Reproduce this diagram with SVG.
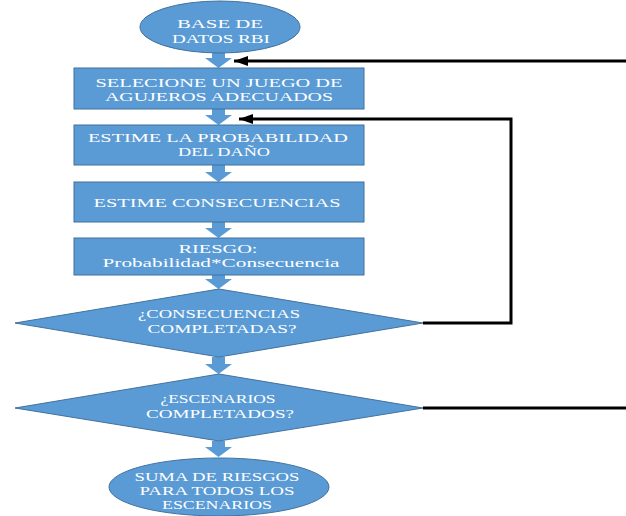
<svg xmlns="http://www.w3.org/2000/svg" width="626" height="516" viewBox="0 0 626 516">
<defs>
<style>
.shape{fill:#5B9BD5;stroke:#41719C;stroke-width:1}
.barrow{fill:#5B9BD5;stroke:none}
.t{font-family:"Liberation Serif","Times New Roman",serif;font-size:12px;fill:#ffffff;text-anchor:middle}
.line{fill:none;stroke:#000;stroke-width:3}
</style>
<marker id="ah" markerWidth="14" markerHeight="10" refX="14" refY="5" orient="auto" markerUnits="userSpaceOnUse">
<path d="M0,0 L14,5 L0,10 Z" fill="#000"/>
</marker>
</defs>
<rect width="626" height="516" fill="#fff"/>
<g id="connectors">
<path class="barrow" d="M212,50 H225 V58 H232 L218.5,68 L205,58 H212 Z"/>
<path class="barrow" d="M212,109 H225 V115 H232 L218.5,125 L205,115 H212 Z"/>
<path class="barrow" d="M212,165 H225 V172 H232 L218.5,182 L205,172 H212 Z"/>
<path class="barrow" d="M212,222 H225 V228 H232 L218.5,238 L205,228 H212 Z"/>
<path class="barrow" d="M212,275 H225 V279 H232 L218.5,289 L205,279 H212 Z"/>
<path class="barrow" d="M212,357 H225 V364 H232 L218.5,374 L205,364 H212 Z"/>
<path class="barrow" d="M212,441 H225 V447 H232 L218.5,457 L205,447 H212 Z"/>
<path class="line" d="M626,61 H234" marker-end="url(#ah)"/>
<path class="line" d="M423,323 H511 V119 H239" marker-end="url(#ah)"/>
<path class="line" d="M423,408 H626"/>
</g>
<g id="n1">
<ellipse class="shape" cx="220" cy="27" rx="80" ry="26"/>
<text class="t" x="220" y="28" textLength="86" lengthAdjust="spacingAndGlyphs">BASE DE</text>
<text class="t" x="221" y="43" textLength="98" lengthAdjust="spacingAndGlyphs">DATOS RBI</text>
</g>
<g id="n2">
<rect class="shape" x="74" y="68" width="290" height="41"/>
<text class="t" x="219" y="87" textLength="247" lengthAdjust="spacingAndGlyphs">SELECIONE UN JUEGO DE</text>
<text class="t" x="219" y="101" textLength="228" lengthAdjust="spacingAndGlyphs">AGUJEROS ADECUADOS</text>
</g>
<g id="n3">
<rect class="shape" x="74" y="125" width="290" height="40"/>
<text class="t" x="218" y="142" textLength="260" lengthAdjust="spacingAndGlyphs">ESTIME LA PROBABILIDAD</text>
<text class="t" x="224" y="156" textLength="92" lengthAdjust="spacingAndGlyphs">DEL DAÑO</text>
</g>
<g id="n4">
<rect class="shape" x="74" y="182" width="290" height="40"/>
<text class="t" x="217" y="207" textLength="247" lengthAdjust="spacingAndGlyphs">ESTIME CONSECUENCIAS</text>
</g>
<g id="n5">
<rect class="shape" x="74" y="238" width="290" height="37"/>
<text class="t" x="218" y="253" textLength="79" lengthAdjust="spacingAndGlyphs">RIESGO:</text>
<text class="t" x="221" y="267" textLength="237" lengthAdjust="spacingAndGlyphs">Probabilidad*Consecuencia</text>
</g>
<g id="n6">
<polygon class="shape" points="219,289 423,323 219,357 15,323"/>
<text class="t" x="219" y="318" textLength="162" lengthAdjust="spacingAndGlyphs">¿CONSECUENCIAS</text>
<text class="t" x="222" y="333" textLength="149" lengthAdjust="spacingAndGlyphs">COMPLETADAS?</text>
</g>
<g id="n7">
<polygon class="shape" points="219,374 423,408 219,441 15,408"/>
<text class="t" x="218" y="403" textLength="115" lengthAdjust="spacingAndGlyphs">¿ESCENARIOS</text>
<text class="t" x="220" y="418" textLength="148" lengthAdjust="spacingAndGlyphs">COMPLETADOS?</text>
</g>
<g id="n8">
<ellipse class="shape" cx="219" cy="487" rx="110" ry="29"/>
<text class="t" x="217" y="481" textLength="165" lengthAdjust="spacingAndGlyphs">SUMA DE RIESGOS</text>
<text class="t" x="217" y="495" textLength="155" lengthAdjust="spacingAndGlyphs">PARA TODOS LOS</text>
<text class="t" x="217" y="509" textLength="110" lengthAdjust="spacingAndGlyphs">ESCENARIOS</text>
</g>
</svg>
